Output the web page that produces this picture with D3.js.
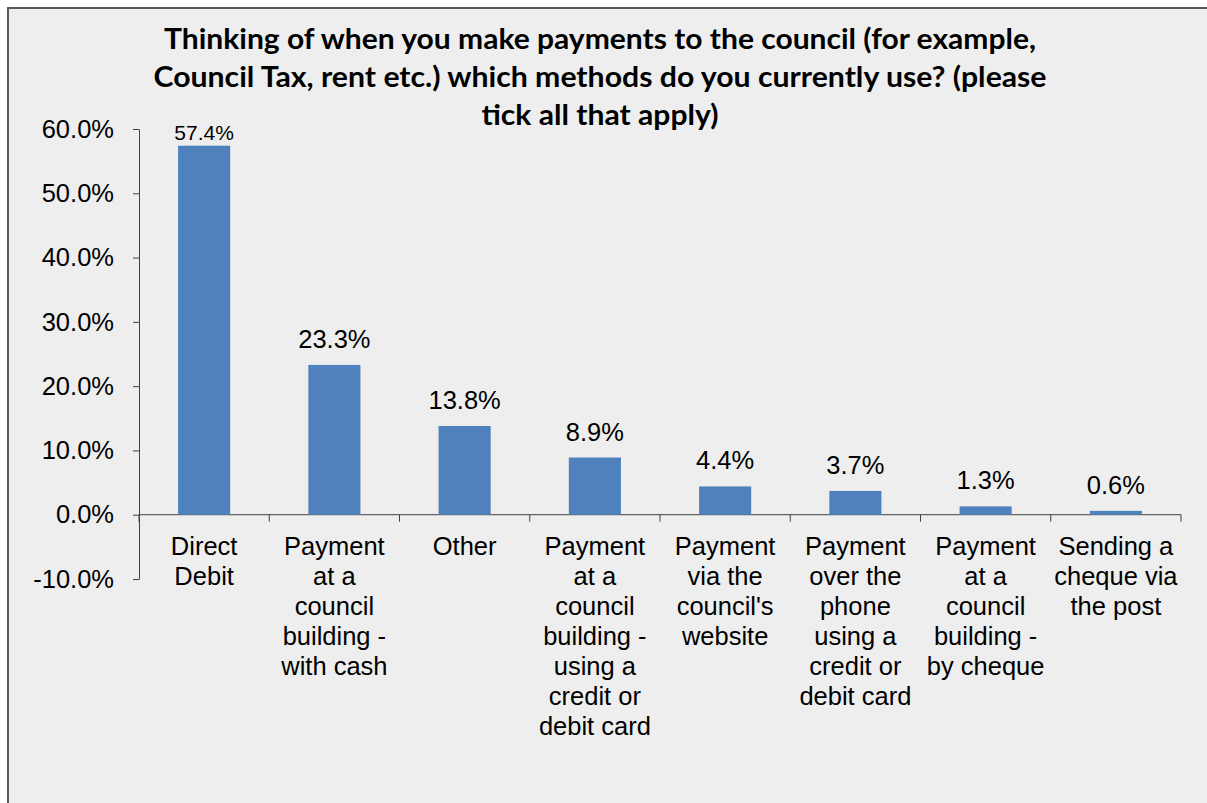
<!DOCTYPE html>
<html>
<head>
<meta charset="utf-8">
<script src="https://cdn.jsdelivr.net/npm/d3@7"></script>
<style>
  html, body { margin: 0; padding: 0; background: #ffffff; }
  svg { display: block; }
</style>
</head>
<body>
<svg id="chart" width="1207" height="803"></svg>
<script>
// Payment methods (multi-select survey question), share of respondents in %
const categories = [
  "Direct\nDebit",
  "Payment\nat a\ncouncil\nbuilding -\nwith cash",
  "Other",
  "Payment\nat a\ncouncil\nbuilding -\nusing a\ncredit or\ndebit card",
  "Payment\nvia the\ncouncil's\nwebsite",
  "Payment\nover the\nphone\nusing a\ncredit or\ndebit card",
  "Payment\nat a\ncouncil\nbuilding -\nby cheque",
  "Sending a\ncheque via\nthe post"
];
const values = [57.4, 23.3, 13.8, 8.9, 4.4, 3.7, 1.3, 0.6];
const yTicks = [-10, 0, 10, 20, 30, 40, 50, 60];
const titleLines = [
  "Thinking of when you make payments to the council (for example,",
  "Council Tax, rent etc.) which methods do you currently use? (please",
  "tick all that apply)"
];

const svg = d3.select("#chart");

// chart area panel
svg.append("rect")
  .attr("x", 8).attr("y", 8)
  .attr("width", 1220).attr("height", 820)
  .attr("fill", "#eeeeee")
  .attr("stroke", "#5a5a5a")
  .attr("stroke-width", 2);

const plot = { left: 139, right: 1181, top: 129, bottom: 579 };

const x = d3.scaleBand()
  .domain(d3.range(categories.length))
  .range([plot.left, plot.right])
  .paddingInner(0.6)
  .paddingOuter(0.3);

const y = d3.scaleLinear()
  .domain([-10, 60])
  .range([plot.bottom, plot.top]);

const fmt = v => v.toFixed(1) + "%";
const labelFont = "'Liberation Sans', Arial, sans-serif";
const labelSize = 25.5;

// title
const title = svg.append("g")
  .attr("font-family", "Lato, 'Open Sans', sans-serif")
  .attr("font-weight", "bold")
  .attr("font-size", 29)
  .attr("fill", "#000")
  .attr("text-anchor", "middle");
const titleWidths = [872, 893, 237];
titleLines.forEach((t, i) => {
  title.append("text")
    .attr("x", 600)
    .attr("y", 49 + i * 38)
    .attr("textLength", titleWidths[i])
    .attr("lengthAdjust", "spacingAndGlyphs")
    .text(t);
});

// y axis
const yAxis = svg.append("g")
  .attr("transform", `translate(${plot.left},0)`)
  .call(d3.axisLeft(y).tickValues(yTicks).tickSize(6).tickSizeOuter(0).tickPadding(19).tickFormat(fmt));
yAxis.select(".domain").attr("stroke", "#404040");
yAxis.selectAll(".tick line").attr("stroke", "#404040");
yAxis.selectAll(".tick text")
  .attr("font-family", labelFont)
  .attr("font-size", labelSize)
  .attr("fill", "#000");

// x axis at zero
const xAxisG = svg.append("g")
  .attr("transform", `translate(0,${y(0)})`);
xAxisG.append("line")
  .attr("x1", plot.left).attr("x2", plot.right)
  .attr("stroke", "#404040");
const boundaries = d3.range(categories.length + 1).map(i => plot.left + i * (plot.right - plot.left) / categories.length);
xAxisG.selectAll("line.tk")
  .data(boundaries)
  .join("line")
  .attr("class", "tk")
  .attr("x1", d => d).attr("x2", d => d)
  .attr("y1", 0).attr("y2", 7)
  .attr("stroke", "#404040");

// category labels
const catG = svg.append("g")
  .attr("font-family", labelFont)
  .attr("font-size", labelSize)
  .attr("fill", "#000")
  .attr("text-anchor", "middle");
categories.forEach((c, i) => {
  const cx = x(i) + x.bandwidth() / 2;
  const t = catG.append("text")
    .attr("x", cx)
    .attr("y", 555);
  c.split("\n").forEach((ln, j) => {
    t.append("tspan")
      .attr("x", cx)
      .attr("dy", j === 0 ? 0 : 30)
      .text(ln);
  });
});

// bars
svg.append("g")
  .selectAll("rect")
  .data(values)
  .join("rect")
  .attr("x", (d, i) => x(i))
  .attr("width", x.bandwidth())
  .attr("y", d => y(d))
  .attr("height", d => y(0) - y(d))
  .attr("fill", "#4f81bd");

// value labels; a label that would rise past the top of the axis is set smaller and tighter
const overflows = d => y(d) - 17 - 18 < plot.top;
svg.append("g")
  .attr("font-family", labelFont)
  .attr("fill", "#000")
  .attr("text-anchor", "middle")
  .selectAll("text")
  .data(values)
  .join("text")
  .attr("x", (d, i) => x(i) + x.bandwidth() / 2)
  .attr("y", d => overflows(d) ? y(d) - 6 : y(d) - 17)
  .attr("font-size", d => overflows(d) ? 21 : labelSize)
  .text(fmt);
</script>
</body>
</html>
